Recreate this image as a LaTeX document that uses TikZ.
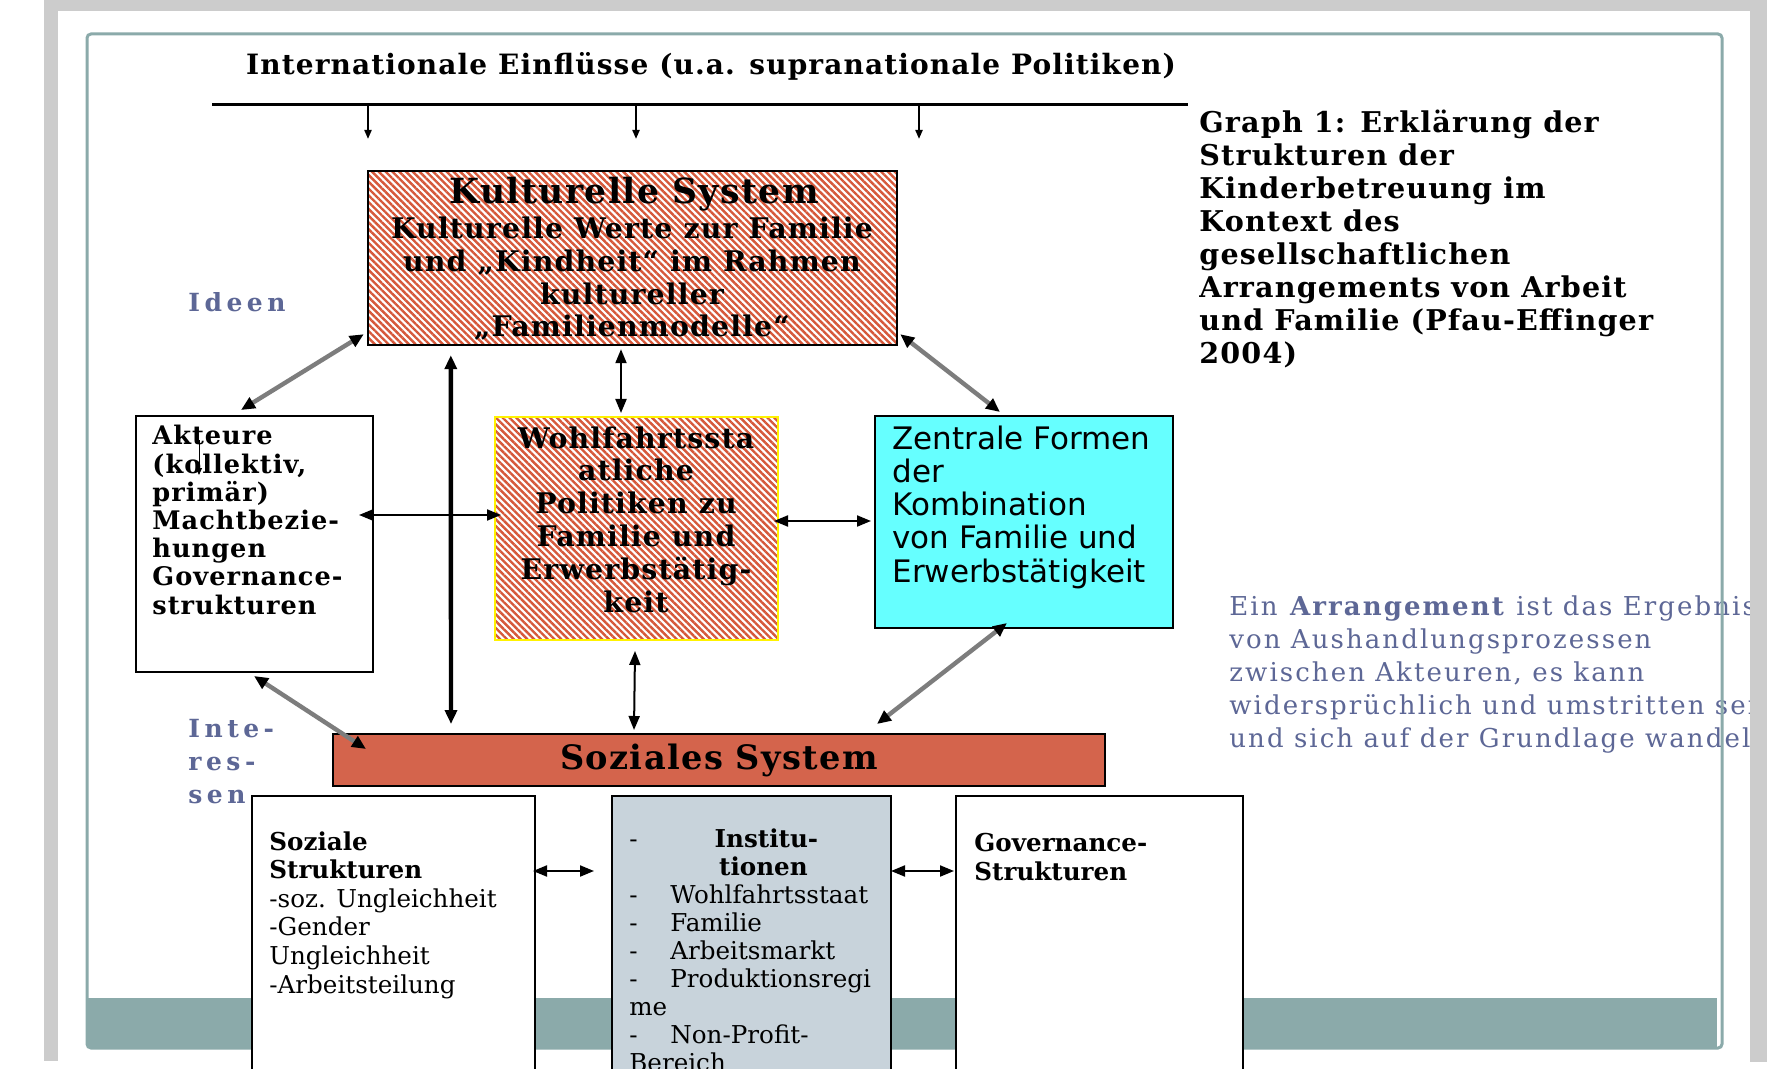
\documentclass[tikz,border=0pt]{standalone}
\usepackage{fontspec}
\setmainfont{DejaVu Serif}
\newfontfamily\bsf[LetterSpace=4]{DejaVu Serif}
\newfontfamily\rsf[LetterSpace=8]{DejaVu Serif}
\newfontfamily\lsf[LetterSpace=18]{DejaVu Serif}
\newfontfamily\ssf{DejaVu Sans}
\usetikzlibrary{arrows.meta,patterns.meta,calc,fit}
\definecolor{hatchred}{RGB}{214,88,58}
\definecolor{sozfill}{RGB}{212,100,76}
\definecolor{cyanfill}{RGB}{102,255,255}
\definecolor{instfill}{RGB}{200,211,219}
\definecolor{tealline}{RGB}{139,170,170}
\definecolor{framegray}{RGB}{204,204,204}
\definecolor{bluegray}{RGB}{93,103,150}
\definecolor{arrgray}{RGB}{125,125,125}
\tikzset{
  box/.style={draw=black, line width=1pt, inner sep=0pt},
  hatchbox/.style={box, pattern={Lines[angle=-45,distance=2.4pt,line width=1.2pt]}, pattern color=hatchred},
  txt/.style={inner sep=0pt},
  barrow/.style={line width=1pt, {Triangle[length=7pt,width=5.5pt]}-{Triangle[length=7pt,width=5.5pt]}},
  thickarrow/.style={line width=2.2pt, {Triangle[length=7pt,width=6pt]}-{Triangle[length=7pt,width=6pt]}},
  garrow/.style={draw=arrgray, line width=2.2pt, {Triangle[length=7pt,width=6pt,color=black]}-{Triangle[length=7pt,width=6pt,color=black]}},
  downarrow/.style={line width=1pt, -{Triangle[length=4.5pt,width=3.5pt]}},
  tinyarrow/.style={line width=0.5pt, -{Triangle[length=3.5pt,width=3pt]}},
}
\begin{document}
\begin{tikzpicture}[x=0.5pt,y=-0.5pt]
\path[use as bounding box, clip] (0,0) rectangle (1787,1069);
\fill[white] (0,0) rectangle (1787,1069);

% right-hand explanatory text (clipped by the frame); anchor = baseline of last line
\begin{scope}
\clip (1200,570) rectangle (1750,770);
\node[txt, anchor=base west, align=left, text=bluegray, font=\rsf\fontsize{13}{16.5}\selectfont] (arr) at (1229,747)
 {Ein \textbf{Arrangement} ist das Ergebnis\\von Aushandlungsprozessen\\zwischen Akteuren, es kann\\widersprüchlich und umstritten sein\\und sich auf der Grundlage wandeln};
\end{scope}

% slide frame
\draw[tealline, line width=1.5pt, rounded corners=2pt] (87,34) rectangle (1722,1048);
\fill[tealline] (87,998) rectangle (1717,1047);

% title and top line
\node[txt, anchor=base, font=\bsf\bfseries\fontsize{14}{17}\selectfont] (title) at (711,75) {Internationale Einflüsse (u.a. supranationale Politiken)};
\coordinate (tl) at (212,105);
\coordinate (tr) at (1188,105);
\draw[line width=1.5pt] (tl) -- (tr);
\coordinate (ta1) at (368,105); \coordinate (tb1) at (368,139);
\coordinate (ta2) at (636,105); \coordinate (tb2) at (636,139);
\coordinate (ta3) at (919,105); \coordinate (tb3) at (919,139);
\draw[downarrow] (ta1) -- (tb1);
\draw[downarrow] (ta2) -- (tb2);
\draw[downarrow] (ta3) -- (tb3);

% caption
\node[txt, anchor=base west, align=left, font=\bsf\bfseries\fontsize{14.3}{16.5}\selectfont] (cap) at (1199,364)
 {Graph 1: Erklärung der\\Strukturen der\\Kinderbetreuung im\\Kontext des\\gesellschaftlichen\\Arrangements von Arbeit\\und Familie (Pfau-Effinger\\2004)};

% boxes
\node[hatchbox, fit={(368,171)(897,345)}] (kult) {};
\node[box, fill=white, fit={(136,416)(373,672)}] (akt) {};
\node[hatchbox, draw=yellow, fit={(495,417)(778,640)}] (wohl) {};
\node[box, fill=cyanfill, fit={(875,416)(1173,628)}] (zent) {};
\node[box, fill=sozfill, fit={(333,734)(1105,786)}] (soz) {};
\node[box, fill=white, fit={(252,796)(535,1090)}] (sstr) {};
\node[box, fill=instfill, fit={(612,796)(891,1090)}] (inst) {};
\node[box, fill=white, fit={(956,796)(1243,1090)}] (gov) {};

% box texts (multi-line nodes: anchor at baseline of last line)
\node[txt, anchor=base, font=\bsf\bfseries\fontsize{17.3}{20}\selectfont] (kultH) at (634,204) {Kulturelle System};
\node[txt, anchor=base, align=center, font=\bsf\bfseries\fontsize{14.2}{16.4}\selectfont] (kultT) at (632,337)
 {Kulturelle Werte zur Familie\\und „Kindheit“ im Rahmen\\kultureller\\„Familienmodelle“};
\node[txt, anchor=base west, align=left, font=\bsf\bfseries\fontsize{12.8}{14.1}\selectfont] (aktT) at (152,614)
 {Akteure\\(kollektiv,\\primär)\\Machtbezie-\\hungen\\Governance-\\strukturen};
\node[txt, anchor=base, align=center, font=\bsf\bfseries\fontsize{14.2}{16.4}\selectfont] (wohlT) at (636,612)
 {Wohlfahrtssta\\atliche\\Politiken zu\\Familie und\\Erwerbstätig-\\keit};
\node[txt, anchor=base west, align=left, font=\ssf\fontsize{15.5}{16.6}\selectfont] (zentT) at (892,582)
 {Zentrale Formen\\der\\Kombination\\von Familie und\\Erwerbstätigkeit};
\node[txt, anchor=base, font=\bsf\bfseries\fontsize{16.8}{19}\selectfont] (sozT) at (719,769) {Soziales System};

\node[txt, anchor=base west, align=left, font=\rmfamily\fontsize{12.3}{14.3}\selectfont] (sstrT) at (269,993)
 {\textbf{Soziale}\\\textbf{Strukturen}\\-soz. Ungleichheit\\-Gender\\Ungleichheit\\-Arbeitsteilung};
\node[txt, anchor=base west, align=left, font=\rmfamily\fontsize{12.3}{13.95}\selectfont] (instT) at (629,1071)
 {\makebox[20.5pt][l]{-}\makebox[96pt][c]{\textbf{Institu-}}\\
  \hspace*{20.5pt}\makebox[93pt][c]{\textbf{tionen}}\\
  \makebox[20.5pt][l]{-}Wohlfahrtsstaat\\
  \makebox[20.5pt][l]{-}Familie\\
  \makebox[20.5pt][l]{-}Arbeitsmarkt\\
  \makebox[20.5pt][l]{-}Produktionsregi\\
  me\\
  \makebox[20.5pt][l]{-}Non-Profit-\\
  Bereich};
\node[txt, anchor=base west, align=left, font=\rmfamily\bfseries\fontsize{12.3}{14.5}\selectfont] (govT) at (974,880)
 {Governance-\\Strukturen};

% side labels
\node[txt, anchor=base west, text=bluegray, font=\lsf\bfseries\fontsize{12.5}{15}\selectfont] (ideen) at (188,312) {Ideen};
\node[txt, anchor=base west, align=left, text=bluegray, font=\lsf\bfseries\fontsize{12.5}{16.3}\selectfont] (inter) at (188,803) {Inte-\\res-\\sen};

% connectors
\draw[garrow] ($(kult.south west)+(-3,-12)$) -- ($(akt.north west)+(106,-5)$);
\draw[garrow] ($(kult.south east)+(2,-12)$) -- ($(zent.north west)+(126,-3)$);
\draw[garrow] ($(akt.south west)+(119,3)$) -- ($(soz.north west)+(34,16)$);
\draw[garrow] ($(zent.south west)+(133,-6)$) -- ($(soz.north west)+(545,-9)$);
\draw[barrow] ($(kult.south)+(-11.5,3)$) -- ($(wohl.north)+(-15.5,-3)$);
\draw[thickarrow] ($(kult.south west)+(84,9)$) -- ($(soz.north west)+(119,-9)$);
\draw[barrow] ($(akt.north east)+(-15,100)$) -- ($(wohl.north west)+(7,99)$);
\draw[barrow] ($(wohl.north east)+(-5,105)$) -- ($(zent.north west)+(-3,106)$);
\draw[barrow] ($(wohl.south)+(-1.5,10)$) -- ($(soz.north west)+(302,-3)$);
\draw[barrow] ($(sstr.north east)+(-3,76)$) -- ($(inst.north west)+(-17,76)$);
\draw[barrow] ($(inst.north east)+(-1,76)$) -- ($(gov.north west)+(-1,76)$);
\coordinate (ka) at (199,440);
\coordinate (kb) at (199,475);
\draw[tinyarrow] (ka) -- (kb);

% outer grey frame
\fill[framegray] (44,0) rectangle (1767,11);
\fill[framegray] (44,0) rectangle (58,1061);
\fill[framegray] (1750,0) rectangle (1767,1062);
\end{tikzpicture}
\end{document}
